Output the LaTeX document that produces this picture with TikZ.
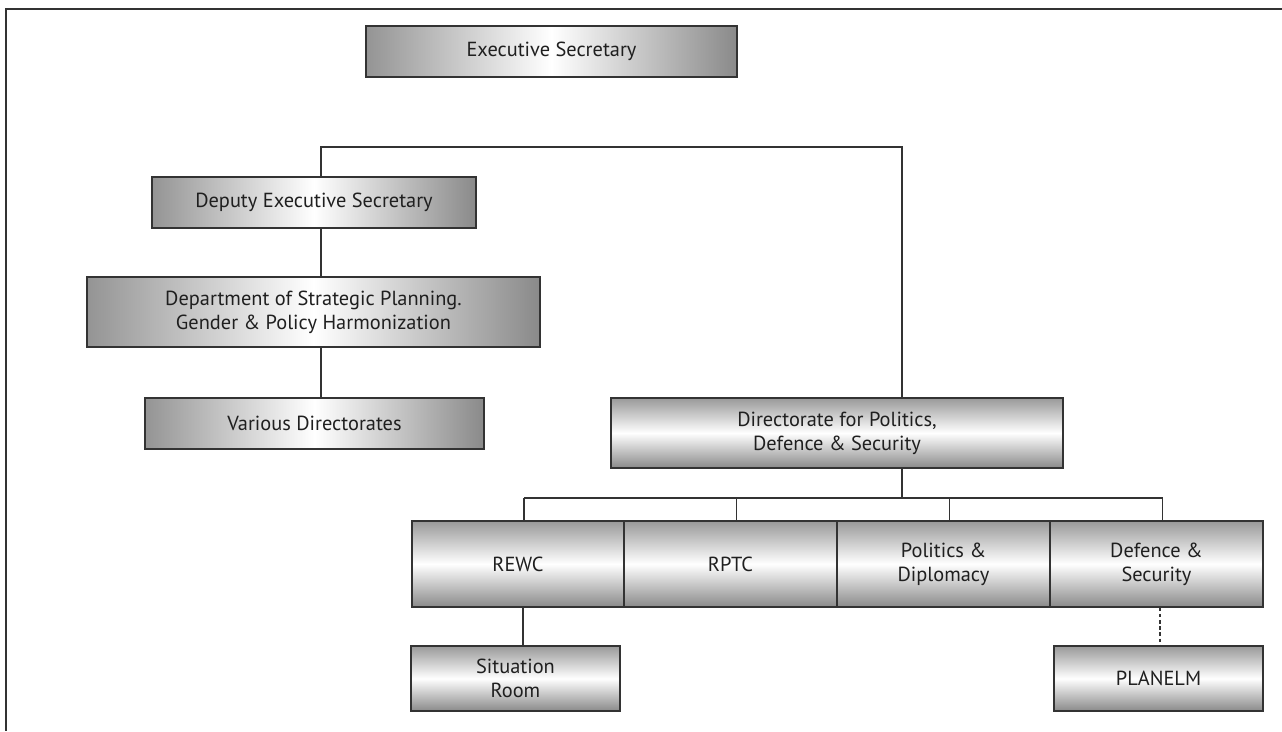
\documentclass[tikz,border=0pt]{standalone}
\usepackage{fontspec}
\setmainfont{PT Sans}

\begin{document}
\begin{tikzpicture}[x=0.02cm, y=-0.02cm,
    unit/.style={draw=black!80, line width=0.9pt, inner sep=0pt, align=center,
        text=black!88, font=\fontsize{11.6}{13.6}\selectfont},
    hbox/.style 2 args={unit, left color=black!42, right color=black!46,
        middle color=white, minimum width=#1*0.02cm, minimum height=#2*0.02cm},
    vbox/.style 2 args={unit, top color=black!40, bottom color=black!46,
        middle color=white, minimum width=#1*0.02cm, minimum height=#2*0.02cm},
    link/.style={draw=black!80, line width=0.7pt}]
    \useasboundingbox (0,0) rectangle (1282,731);
    % Open frame
    \draw[black!80, line width=0.8pt] (1282,9) -- (6,9) -- (6,731);
    % Left column
    \node[hbox={371}{51}] (exec) at (551.5,51.5) {Executive Secretary};
    \node[hbox={324}{51}] (deputy) at (314,202.5) {Deputy Executive Secretary};
    \node[hbox={453}{70}] (dept) at (313.5,312) {Department of Strategic Planning.\\Gender \& Policy Harmonization};
    \node[hbox={339}{51}] (various) at (314.5,423.5) {Various Directorates};
    % Directorate and its units
    \node[vbox={452}{70}] (dir) at (837,433) {Directorate for Politics,\\Defence \& Security};
    \node[vbox={212}{86}] (rewc) at (518,564) {REWC};
    \node[vbox={213}{86}] (rptc) at (730.5,564) {RPTC};
    \node[vbox={213}{86}] (pol) at (943.5,564) {Politics \&\\Diplomacy};
    \node[vbox={213}{86}] (def) at (1156.5,564) {Defence \&\\Security};
    \node[vbox={209}{65}] (sit) at (515.5,678.5) {Situation\\Room};
    \node[vbox={209}{65}] (plan) at (1158.5,678.5) {PLANELM};
    % Connectors
    \coordinate (top) at (321,147);
    \coordinate (trunk) at (902,147);
    \coordinate (bus) at (902,498);
    \draw[link] (deputy.north -| top) -- (top) -- (trunk) -- (dir.north -| trunk);
    \draw[link] (deputy.south -| top) -- (dept.north -| top);
    \draw[link] (dept.south -| top) -- (various.north -| top);
    \draw[link] (dir.south -| trunk) -- (bus);
    \draw[link] ([xshift=0.12cm]rewc.north |- bus) -- ([xshift=0.12cm]def.north |- bus);
    \foreach \n in {rewc,rptc,pol,def}
        \draw[link] ([xshift=0.12cm]\n.north) -- ([xshift=0.12cm]\n.north |- bus);
    \draw[link] ([xshift=0.1cm]rewc.south) -- ([xshift=0.1cm]rewc.south |- sit.north);
    \draw[link, dash pattern=on 2pt off 1.5pt] ([xshift=0.07cm]def.south) -- ([xshift=0.07cm]def.south |- plan.north);
\end{tikzpicture}
\end{document}
